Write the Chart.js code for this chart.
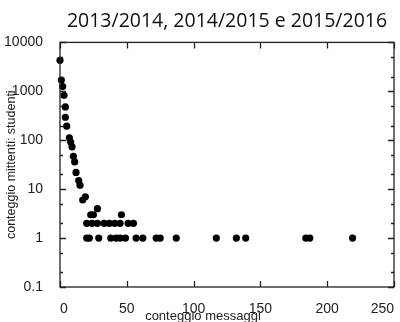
<!DOCTYPE html>
<html>
<head>
<meta charset="utf-8">
<script src="https://cdn.jsdelivr.net/npm/chart.js@4.4.1/dist/chart.umd.min.js"></script>
<style>
  html, body { margin: 0; padding: 0; background: #fff; }
  #wrap { width: 400px; height: 322px; }
</style>
</head>
<body>
<div id="wrap"><canvas id="grafico"></canvas></div>
<script>
// Dati (conteggio messaggi -> conteggio mittenti)
const messaggi = [0, 1, 2, 3, 4, 4, 5, 7, 8, 9, 10, 11, 12, 14, 15, 17, 19,
    28, 23, 25, 46,
    20, 24, 28, 33, 37, 41, 45, 51, 55,
    20, 22, 29, 38, 42, 45, 49, 57, 62, 72, 75, 87, 117, 132, 139, 184, 187, 219];
const mittenti = [4300, 1700, 1250, 830, 480, 295, 194, 112, 92, 73, 47, 36, 22, 15, 12, 6, 7,
    4, 3, 3, 3,
    2, 2, 2, 2, 2, 2, 2, 2, 2,
    1, 1, 1, 1, 1, 1, 1, 1, 1, 1, 1, 1, 1, 1, 1, 1, 1, 1];

const xTicks = [0, 50, 100, 150, 200, 250];
const yTicks = [0.1, 1, 10, 100, 1000, 10000];
const yMinori = [2, 5];
const titoloX = 'conteggio messaggi';

// Tacche interne su tutti i lati + cornice + titolo asse x
const tacche = {
    id: 'tacche',
    afterDraw(chart) {
        const { ctx, chartArea: a, scales } = chart;
        ctx.save();
        ctx.strokeStyle = '#222';
        ctx.lineWidth = 1.3;
        ctx.strokeRect(a.left, a.top, a.right - a.left, a.bottom - a.top);
        ctx.beginPath();
        xTicks.forEach(v => {
            const px = Math.round(scales.x.getPixelForValue(v)) + 0.5;
            ctx.moveTo(px, a.bottom); ctx.lineTo(px, a.bottom - 6);
            ctx.moveTo(px, a.top); ctx.lineTo(px, a.top + 6);
        });
        yTicks.forEach((v, i) => {
            const py = Math.round(scales.y.getPixelForValue(v)) + 0.5;
            ctx.moveTo(a.left, py); ctx.lineTo(a.left + 6, py);
            ctx.moveTo(a.right, py); ctx.lineTo(a.right - 6, py);
            if (i < yTicks.length - 1) {
                yMinori.forEach(m => {
                    const pm = Math.round(scales.y.getPixelForValue(v * m)) + 0.5;
                    ctx.moveTo(a.left, pm); ctx.lineTo(a.left + 3, pm);
                    ctx.moveTo(a.right, pm); ctx.lineTo(a.right - 3, pm);
                });
            }
        });
        ctx.stroke();

        // titolo asse x, un po' spostato a sinistra come nell'originale
        ctx.fillStyle = '#222';
        ctx.font = '13px "Liberation Sans"';
        ctx.textAlign = 'center';
        ctx.textBaseline = 'middle';
        ctx.fillText(titoloX, scales.x.getPixelForValue(107), chart.height - 6);
        ctx.restore();
    }
};

const punti = messaggi.map((x, i) => ({ x: x, y: mittenti[i] }));

new Chart(document.getElementById('grafico'), {
    type: 'scatter',
    data: {
        datasets: [{
            data: punti,
            backgroundColor: '#000',
            borderWidth: 0,
            pointRadius: 3.6,
            pointHoverRadius: 3.6,
            clip: false
        }]
    },
    options: {
        responsive: true,
        maintainAspectRatio: false,
        animation: false,
        layout: { padding: { left: 0, right: 6, top: 0, bottom: 0 } },
        plugins: {
            legend: { display: false },
            tooltip: { enabled: false },
            title: {
                display: true,
                text: '2013/2014, 2014/2015 e 2015/2016',
                fullSize: false,
                color: '#111',
                font: { family: 'Open Sans', size: 19.5, weight: 'normal' },
                padding: { top: 10, bottom: 9 }
            }
        },
        scales: {
            x: {
                type: 'linear',
                min: 0,
                max: 250,
                afterFit: s => { s.height = 35; s.paddingLeft = 0; s.paddingRight = 0; },
                afterBuildTicks: s => { s.ticks = xTicks.map(v => ({ value: v })); },
                grid: { display: false },
                border: { display: false },
                ticks: {
                    color: '#222',
                    padding: 6,
                    maxRotation: 0,
                    align: 'inner',
                    font: { family: 'Liberation Sans', size: 14 }
                },
                title: { display: false }
            },
            y: {
                type: 'logarithmic',
                min: 0.1,
                max: 10000,
                afterFit: s => { s.width = 60; s.paddingTop = 0; s.paddingBottom = 0; },
                afterBuildTicks: s => { s.ticks = yTicks.map(v => ({ value: v })); },
                grid: { display: false },
                border: { display: false },
                ticks: {
                    color: '#222',
                    padding: 9,
                    font: { family: 'Liberation Sans', size: 14 },
                    callback: v => String(v)
                },
                title: {
                    display: true,
                    text: 'conteggio mittenti: studenti',
                    color: '#222',
                    padding: { top: 4, bottom: 0 },
                    font: { family: 'Liberation Sans', size: 12.5 }
                }
            }
        }
    },
    plugins: [tacche]
});
</script>
</body>
</html>
